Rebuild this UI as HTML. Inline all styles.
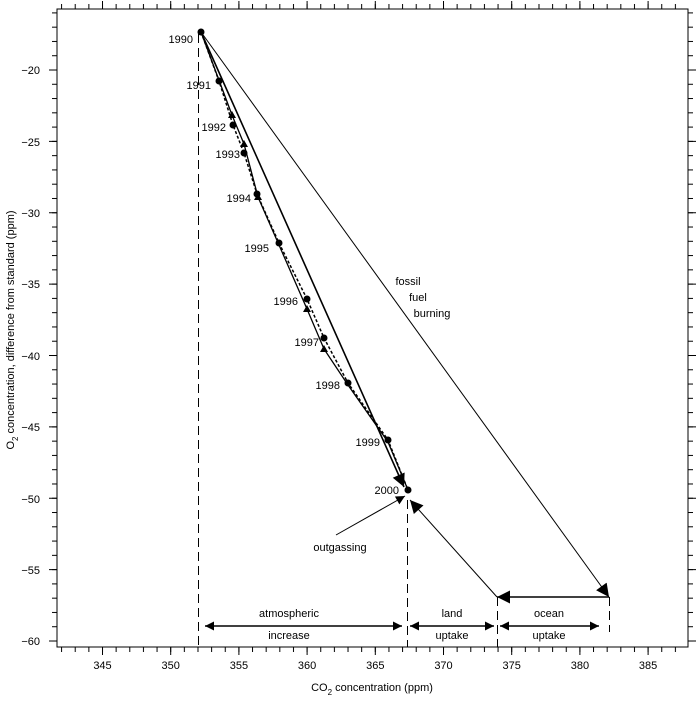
<!DOCTYPE html>
<html><head><meta charset="utf-8"><style>
body{margin:0;background:#fff}
svg text{font-family:"Liberation Sans",sans-serif;font-size:11px;fill:#000}
</style></head><body>
<svg width="700" height="698" xmlns="http://www.w3.org/2000/svg">
<defs>
<marker id="ah" viewBox="0 0 10 10" refX="10" refY="5" markerWidth="22" markerHeight="13" markerUnits="userSpaceOnUse" orient="auto"><path d="M0,0L10,5L0,10z" fill="#000"/></marker>
<marker id="ahs" viewBox="0 0 10 10" refX="10" refY="5" markerWidth="20" markerHeight="9" markerUnits="userSpaceOnUse" orient="auto-start-reverse"><path d="M0,0L10,5L0,10z" fill="#000"/></marker>
<pattern id="pxm" patternUnits="userSpaceOnUse" x="102" y="0" width="13.64" height="20"><rect x="0" y="0" width="1" height="20" fill="#000"/></pattern>
<pattern id="pxM" patternUnits="userSpaceOnUse" x="102" y="0" width="68.2" height="20"><rect x="0" y="0" width="1" height="20" fill="#000"/></pattern>
<pattern id="pym" patternUnits="userSpaceOnUse" x="0" y="69.5" width="20" height="14.275"><rect x="0" y="0" width="20" height="1" fill="#000"/></pattern>
<pattern id="pyM" patternUnits="userSpaceOnUse" x="0" y="69.5" width="20" height="71.375"><rect x="0" y="0" width="20" height="1" fill="#000"/></pattern>
</defs>
<rect x="57" y="647" width="631" height="5" fill="url(#pxm)"/>
<rect x="57" y="647" width="631" height="8" fill="url(#pxM)"/>
<rect x="57" y="4" width="631" height="5" fill="url(#pxm)"/>
<rect x="57" y="1" width="631" height="8" fill="url(#pxM)"/>
<rect x="52" y="9" width="5" height="638" fill="url(#pym)"/>
<rect x="49" y="9" width="8" height="638" fill="url(#pyM)"/>
<rect x="688" y="9" width="5" height="638" fill="url(#pym)"/>
<rect x="688" y="9" width="8" height="638" fill="url(#pyM)"/>
<rect x="57" y="9" width="631" height="638" fill="none" stroke="#000" stroke-width="1"/>
<g font-size="11">
<text x="102.5" y="669" text-anchor="middle">345</text>
<text x="170.7" y="669" text-anchor="middle">350</text>
<text x="238.9" y="669" text-anchor="middle">355</text>
<text x="307.1" y="669" text-anchor="middle">360</text>
<text x="375.3" y="669" text-anchor="middle">365</text>
<text x="443.5" y="669" text-anchor="middle">370</text>
<text x="511.7" y="669" text-anchor="middle">375</text>
<text x="579.9" y="669" text-anchor="middle">380</text>
<text x="648.1" y="669" text-anchor="middle">385</text>
<text x="40" y="74" text-anchor="end">−20</text>
<text x="40" y="146" text-anchor="end">−25</text>
<text x="40" y="217" text-anchor="end">−30</text>
<text x="40" y="288" text-anchor="end">−35</text>
<text x="40" y="360" text-anchor="end">−40</text>
<text x="40" y="431" text-anchor="end">−45</text>
<text x="40" y="503" text-anchor="end">−50</text>
<text x="40" y="574" text-anchor="end">−55</text>
<text x="40" y="645" text-anchor="end">−60</text>
</g>
<text x="372" y="691" text-anchor="middle" font-size="12">CO<tspan font-size="8" dy="4">2</tspan><tspan dy="-4"> concentration (ppm)</tspan></text>
<text transform="translate(14,330) rotate(-90)" text-anchor="middle" font-size="12">O<tspan font-size="8" dy="4">2</tspan><tspan dy="-4"> concentration, difference from standard (ppm)</tspan></text>
<g stroke="#000" stroke-dasharray="9,5" fill="none">
<line x1="198.5" y1="34" x2="198.5" y2="647"/>
<line x1="407.5" y1="500" x2="407.5" y2="647"/>
<line x1="497.5" y1="597" x2="497.5" y2="647"/>
<line x1="609.5" y1="597" x2="609.5" y2="632"/>
</g>
<polyline points="201,32 219,81 233,125 244,153 257,194 279,243 307,299 324,338 348,383 388,440 408,490" fill="none" stroke="#000" stroke-width="1.5" stroke-dasharray="3,2"/>
<polyline points="201,32 232,115 244,144 258,197 279,245 307,309 324,349 348,385 388,442 408,490" fill="none" stroke="#000" stroke-width="1.3"/>
<line x1="201" y1="32" x2="404" y2="487" stroke="#000" stroke-width="1.6" marker-end="url(#ah)"/>
<line x1="201" y1="32" x2="609" y2="597" stroke="#000" stroke-width="1" marker-end="url(#ah)"/>
<line x1="609" y1="597" x2="497" y2="597" stroke="#000" stroke-width="1.5" marker-end="url(#ah)"/>
<line x1="497" y1="597" x2="410" y2="500" stroke="#000" stroke-width="1" marker-end="url(#ah)"/>
<line x1="336" y1="535" x2="405" y2="496" stroke="#000" stroke-width="1" marker-end="url(#ahs)"/>
<line x1="205" y1="626" x2="402" y2="626" stroke="#000" stroke-width="1.5" marker-start="url(#ahs)" marker-end="url(#ahs)"/>
<line x1="410" y1="626" x2="494" y2="626" stroke="#000" stroke-width="1.5" marker-start="url(#ahs)" marker-end="url(#ahs)"/>
<line x1="500" y1="626" x2="599" y2="626" stroke="#000" stroke-width="1.5" marker-start="url(#ahs)" marker-end="url(#ahs)"/>
<g fill="#000">
<circle cx="201" cy="32" r="3.5"/><circle cx="219" cy="81" r="3.5"/><circle cx="233" cy="125" r="3.5"/><circle cx="244" cy="153" r="3.5"/><circle cx="257" cy="194" r="3.5"/><circle cx="279" cy="243" r="3.5"/><circle cx="307" cy="299" r="3.5"/><circle cx="324" cy="338" r="3.5"/><circle cx="348" cy="383" r="3.5"/><circle cx="388" cy="440" r="3.5"/><circle cx="408" cy="490" r="3.5"/>
<path d="M232,111l4,7h-8z M244,140l4,7h-8z M258,193l4,7h-8z M307,305l4,7h-8z M324,345l4,7h-8z"/>
</g>
<g font-size="11" text-anchor="end">
<text x="193" y="43">1990</text><text x="211" y="89">1991</text><text x="226" y="131">1992</text><text x="240" y="158">1993</text><text x="251" y="202">1994</text><text x="269" y="252">1995</text><text x="298" y="305">1996</text><text x="319" y="346">1997</text><text x="340" y="389">1998</text><text x="380" y="446">1999</text><text x="399" y="494">2000</text>
</g>
<g font-size="11" text-anchor="middle">
<text x="408" y="285">fossil</text><text x="418" y="301">fuel</text><text x="432" y="317">burning</text>
<text x="340" y="551">outgassing</text>
<text x="289" y="617">atmospheric</text><text x="289" y="639">increase</text>
<text x="452" y="617">land</text><text x="452" y="639">uptake</text>
<text x="549" y="617">ocean</text><text x="549" y="639">uptake</text>
</g>
</svg>
</body></html>
